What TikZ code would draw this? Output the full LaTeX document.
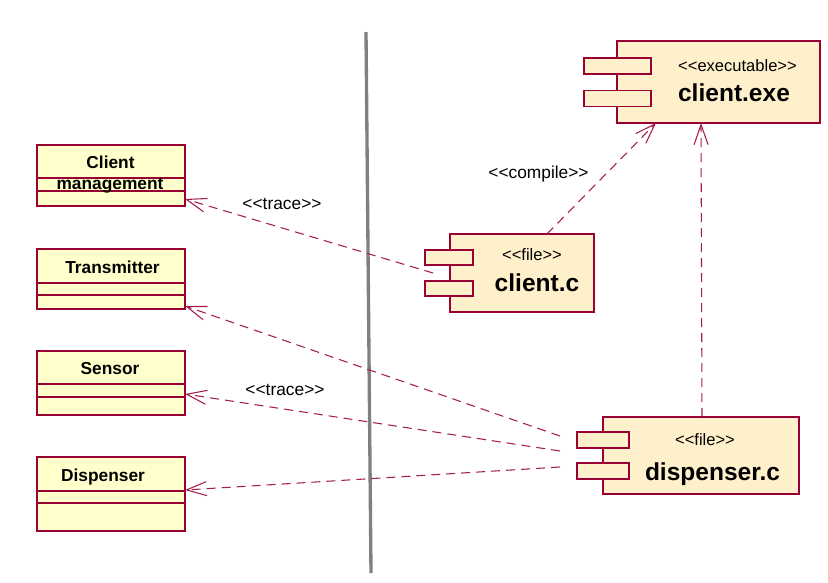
\documentclass[tikz,border=0pt]{standalone}
\usepackage{fontspec}
\setmainfont{Liberation Sans}
\usetikzlibrary{arrows.meta}
\definecolor{boxline}{RGB}{153,0,51}
\definecolor{depline}{RGB}{165,30,75}
\definecolor{classfill}{RGB}{255,255,204}
\definecolor{compfill}{RGB}{255,240,204}
\definecolor{sepgray}{RGB}{128,128,128}
\newcommand{\stl}{<\kern0pt<}
\newcommand{\str}{>\kern0pt>}
\begin{document}
\begin{tikzpicture}[x=0.75pt,y=-0.75pt,
  classbox/.style={draw=boxline,fill=classfill,line width=1.1pt,inner sep=0pt},
  compbody/.style={draw=boxline,fill=compfill,line width=1.1pt,inner sep=0pt},
  divider/.style={draw=boxline,line width=1pt},
  classname/.style={font=\fontsize{13}{15}\selectfont\bfseries,anchor=base,inner sep=0pt},
  compname/.style={font=\fontsize{18.4}{21}\selectfont\bfseries,anchor=base,inner sep=0pt},
  stereo/.style={font=\fontsize{12.4}{14}\selectfont,anchor=base,inner sep=0pt},
  deplabel/.style={font=\fontsize{13}{15}\selectfont,anchor=base,inner sep=0pt},
  dep/.style={draw=depline,line width=0.8pt,dash pattern=on 6.75pt off 4.5pt,
    -{Straight Barb[length=15pt,width=10.5pt]}}]
\useasboundingbox (0,0) rectangle (828,582);
\fill[white] (0,0) rectangle (828,582);

% separator
\coordinate (sepTop) at (366,32);
\coordinate (sepBot) at (371,573);
\draw[sepgray,line width=2.5pt] (sepTop) -- (sepBot);

% class boxes
\node[classbox,minimum width=111pt,minimum height=45.75pt] (cm) at (111,175.5) {};
\draw[divider] (cm.west |- 0,178) -- (cm.east |- 0,178);
\draw[divider] (cm.west |- 0,191) -- (cm.east |- 0,191);
\node[classname] (cmT1) at (110.5,168) {Client};
\node[classname] (cmT2) at (110,189) {management};

\node[classbox,minimum width=111pt,minimum height=45pt] (tr) at (111,279) {};
\draw[divider] (tr.west |- 0,283) -- (tr.east |- 0,283);
\draw[divider] (tr.west |- 0,295) -- (tr.east |- 0,295);
\node[classname] (trT) at (112.5,273) {Transmitter};

\node[classbox,minimum width=111pt,minimum height=48pt] (se) at (111,383) {};
\draw[divider] (se.west |- 0,384) -- (se.east |- 0,384);
\draw[divider] (se.west |- 0,397) -- (se.east |- 0,397);
\node[classname] (seT) at (110,374) {Sensor};

\node[classbox,minimum width=111pt,minimum height=55.5pt] (di) at (111,494) {};
\draw[divider] (di.west |- 0,491) -- (di.east |- 0,491);
\draw[divider] (di.west |- 0,503) -- (di.east |- 0,503);
\node[classname] (diT) at (103,481) {Dispenser};

% components
\node[compbody,minimum width=152.25pt,minimum height=61.5pt] (exe) at (718.5,82) {};
\node[compbody,minimum width=50.25pt,minimum height=12pt] (exeP1) at (617.5,66) {};
\node[compbody,minimum width=50.25pt,minimum height=12pt] (exeP2) at (617.5,98.5) {};
\node[stereo] (exeS) at (737.5,71) {\stl executable\str};
\node[compname] (exeN) at (734,101) {client.exe};

\node[compbody,minimum width=108pt,minimum height=58.5pt] (cc) at (522,273) {};
\node[compbody,minimum width=36pt,minimum height=11.25pt] (ccP1) at (449,257.5) {};
\node[compbody,minimum width=36pt,minimum height=11.25pt] (ccP2) at (449,288.5) {};
\node[stereo] (ccS) at (532,260) {\stl file\str};
\node[compname] (ccN) at (537,291) {client.c};

\node[compbody,minimum width=147pt,minimum height=57.75pt] (dc) at (701,455.5) {};
\node[compbody,minimum width=39pt,minimum height=12pt] (dcP1) at (603,440) {};
\node[compbody,minimum width=39pt,minimum height=12pt] (dcP2) at (603,471) {};
\node[stereo] (dcS) at (705,445) {\stl file\str};
\node[compname] (dcN) at (712.5,480) {dispenser.c};

% connector end points
\coordinate (ccOut) at (433,273);
\coordinate (cmIn) at (185,199);
\coordinate (dcOutA) at (560,436);
\coordinate (trIn) at (185,306);
\coordinate (dcOutB) at (560,451);
\coordinate (seIn) at (185,394);
\coordinate (dcOutC) at (560,467);
\coordinate (diIn) at (185,490);
\coordinate (ccTop) at (547,234);
\coordinate (exeInA) at (656,123);
\coordinate (dcTop) at (702,417);
\coordinate (exeInB) at (701,123);

\draw[dep] (ccOut) -- (cmIn);
\draw[dep] (dcOutA) -- (trIn);
\draw[dep] (dcOutB) -- (seIn);
\draw[dep] (dcOutC) -- (diIn);
\draw[dep] (ccTop) -- (exeInA);
\draw[dep] (dcTop) -- (exeInB);

% labels
\node[deplabel] (lblTrace1) at (282,209) {\stl trace\str};
\node[deplabel] (lblTrace2) at (285,395) {\stl trace\str};
\node[deplabel] (lblCompile) at (538.5,178) {\stl compile\str};
\end{tikzpicture}
\end{document}
